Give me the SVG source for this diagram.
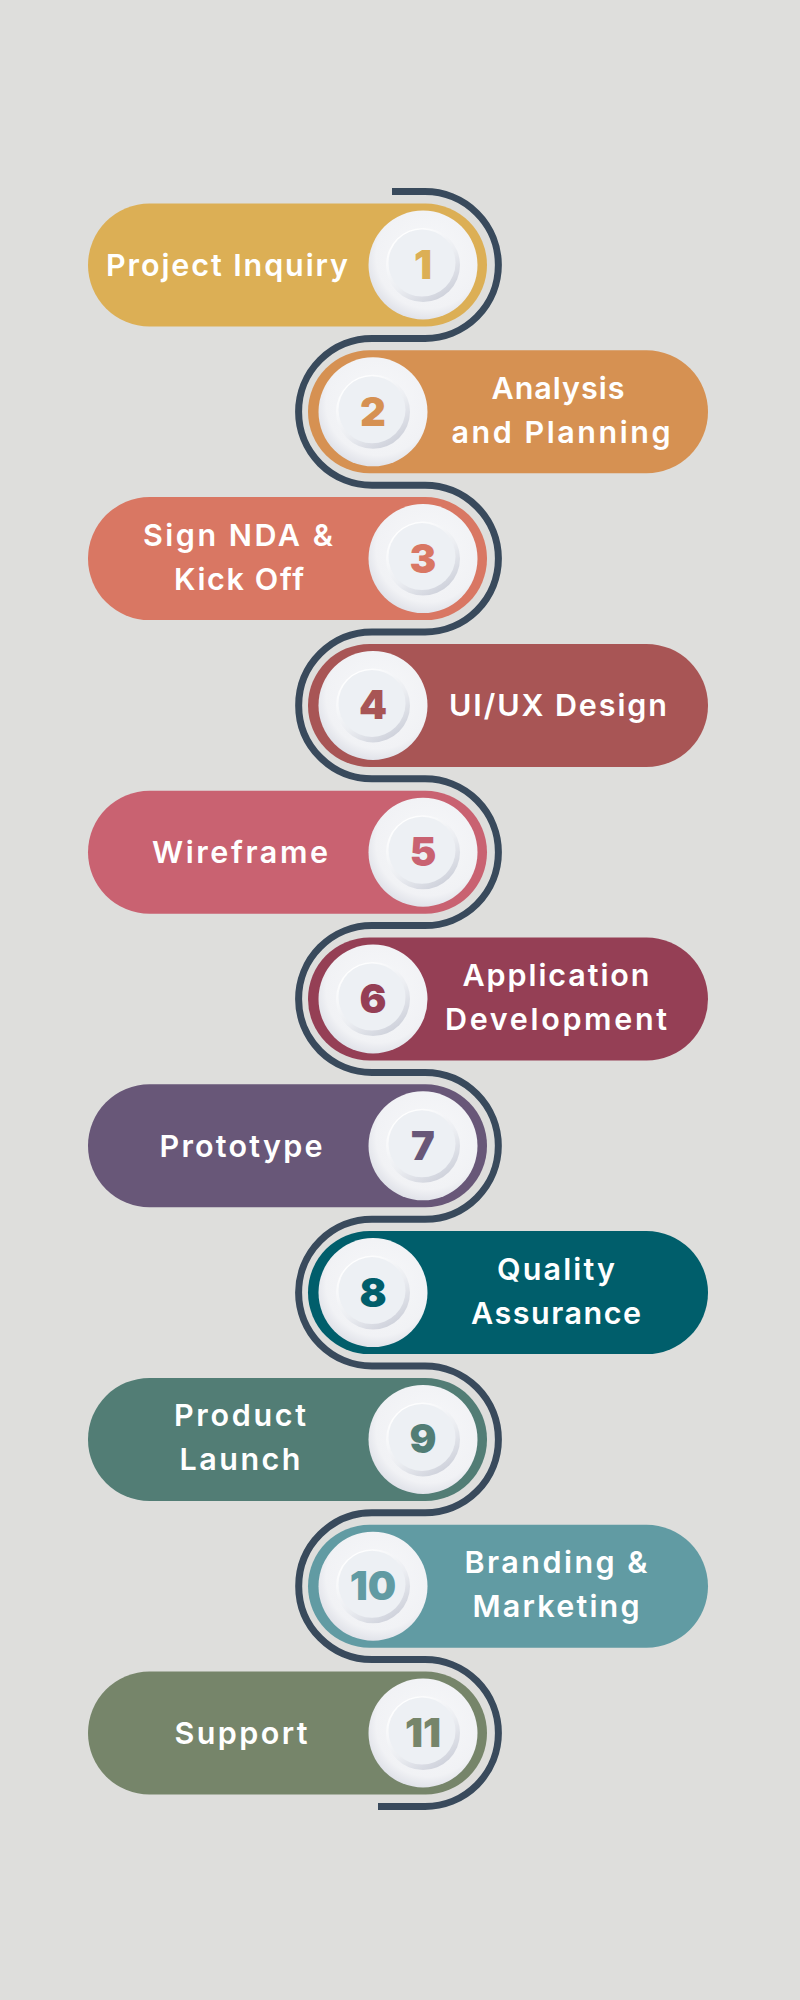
<svg xmlns="http://www.w3.org/2000/svg" width="800" height="2000" viewBox="0 0 800 2000">
<defs>
<style>
.lbl{fill:#ffffff;font-family:Inter,"Open Sans","Liberation Sans",sans-serif;font-weight:600;font-size:30.5px;text-anchor:middle}
.num{font-family:Inter,"Liberation Sans",sans-serif;font-weight:900;font-size:40px;text-anchor:middle}
.path{fill:none;stroke:#394a5c;stroke-width:7}
</style>
<radialGradient id="gOuter" cx="0.55" cy="0.42" r="0.6">
<stop offset="0" stop-color="#f7f8fa"/>
<stop offset="0.8" stop-color="#f1f2f5"/>
<stop offset="1" stop-color="#dfe1e8"/>
</radialGradient>
<linearGradient id="gRing" x1="0.2" y1="0.1" x2="0.8" y2="0.95">
<stop offset="0" stop-color="#ffffff"/>
<stop offset="0.55" stop-color="#eceef2"/>
<stop offset="1" stop-color="#cdd0da"/>
</linearGradient>
<g id="disk">
<circle r="54.5" fill="url(#gOuter)"/>
<circle r="37" fill="url(#gRing)"/>
<circle cx="-1" cy="-2" r="33.5" fill="#edf0f4"/>
</g>
</defs>
<rect width="800" height="2000" fill="#dededc"/>
<g id="connectors">
<path class="path" d="M392 191.6 L425 191.6 A73.4 73.4 0 0 1 425 338.4 L372 338.4 A73.4 73.4 0 0 0 372 485.2 L425 485.2 A73.4 73.4 0 0 1 425 632 L372 632 A73.4 73.4 0 0 0 372 778.8 L425 778.8 A73.4 73.4 0 0 1 425 925.6 L372 925.6 A73.4 73.4 0 0 0 372 1072.4 L425 1072.4 A73.4 73.4 0 0 1 425 1219.2 L372 1219.2 A73.4 73.4 0 0 0 372 1366 L425 1366 A73.4 73.4 0 0 1 425 1512.8 L372 1512.8 A73.4 73.4 0 0 0 372 1659.6 L425 1659.6 A73.4 73.4 0 0 1 425 1806.4 L378 1806.4"/>
</g>
<g id="node1">
<rect x="88" y="203.5" width="399" height="123" rx="61.5" fill="#dcaf55"/>
<use href="#disk" x="423" y="265"/>
<text class="num" x="423" y="279" fill="#dcaf55">1</text>
<text class="lbl" x="227" y="276" textLength="242">Project Inquiry</text>
</g>
<g id="node2">
<rect x="308" y="350.3" width="400" height="123" rx="61.5" fill="#d69152"/>
<use href="#disk" x="373" y="411.8"/>
<text class="num" x="373" y="425.8" fill="#d69152">2</text>
<text class="lbl" x="558" y="398.8" textLength="133">Analysis</text>
<text class="lbl" x="561" y="442.8" textLength="219">and Planning</text>
</g>
<g id="node3">
<rect x="88" y="497.1" width="399" height="123" rx="61.5" fill="#d97763"/>
<use href="#disk" x="423" y="558.6"/>
<text class="num" x="423" y="572.6" fill="#d97763">3</text>
<text class="lbl" x="238" y="545.6" textLength="190">Sign NDA &amp;</text>
<text class="lbl" x="239" y="589.6" textLength="130">Kick Off</text>
</g>
<g id="node4">
<rect x="308" y="643.9" width="400" height="123" rx="61.5" fill="#a85555"/>
<use href="#disk" x="373" y="705.4"/>
<text class="num" x="373" y="719.4" fill="#a85555">4</text>
<text class="lbl" x="558" y="716.4" textLength="218">UI/UX Design</text>
</g>
<g id="node5">
<rect x="88" y="790.7" width="399" height="123" rx="61.5" fill="#c96271"/>
<use href="#disk" x="423" y="852.2"/>
<text class="num" x="423" y="866.2" fill="#c96271">5</text>
<text class="lbl" x="240" y="863.2" textLength="176">Wireframe</text>
</g>
<g id="node6">
<rect x="308" y="937.5" width="400" height="123" rx="61.5" fill="#953f55"/>
<use href="#disk" x="373" y="999"/>
<text class="num" x="373" y="1013" fill="#953f55">6</text>
<text class="lbl" x="556" y="986" textLength="187">Application</text>
<text class="lbl" x="556" y="1030" textLength="222">Development</text>
</g>
<g id="node7">
<rect x="88" y="1084.3" width="399" height="123" rx="61.5" fill="#685778"/>
<use href="#disk" x="423" y="1145.8"/>
<text class="num" x="423" y="1159.8" fill="#685778">7</text>
<text class="lbl" x="241" y="1156.8" textLength="163">Prototype</text>
</g>
<g id="node8">
<rect x="308" y="1231.1" width="400" height="123" rx="61.5" fill="#005e6b"/>
<use href="#disk" x="373" y="1292.6"/>
<text class="num" x="373" y="1306.6" fill="#005e6b">8</text>
<text class="lbl" x="556" y="1279.6" textLength="118">Quality</text>
<text class="lbl" x="556" y="1323.6" textLength="170">Assurance</text>
</g>
<g id="node9">
<rect x="88" y="1377.9" width="399" height="123" rx="61.5" fill="#527d75"/>
<use href="#disk" x="423" y="1439.4"/>
<text class="num" x="423" y="1453.4" fill="#527d75">9</text>
<text class="lbl" x="240" y="1426.4" textLength="132">Product</text>
<text class="lbl" x="240" y="1470.4" textLength="121">Launch</text>
</g>
<g id="node10">
<rect x="308" y="1524.7" width="400" height="123" rx="61.5" fill="#619ba3"/>
<use href="#disk" x="373" y="1586.2"/>
<text class="num" x="373" y="1600.2" fill="#619ba3">10</text>
<text class="lbl" x="556" y="1573.2" textLength="183">Branding &amp;</text>
<text class="lbl" x="556" y="1617.2" textLength="167">Marketing</text>
</g>
<g id="node11">
<rect x="88" y="1671.5" width="399" height="123" rx="61.5" fill="#76856a"/>
<use href="#disk" x="423" y="1733"/>
<text class="num" x="423" y="1747" fill="#76856a">11</text>
<text class="lbl" x="241" y="1744" textLength="133">Support</text>
</g>
</svg>
